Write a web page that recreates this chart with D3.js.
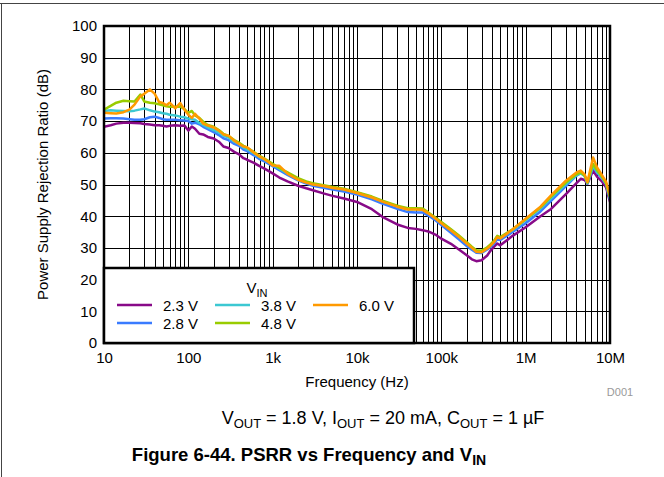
<!DOCTYPE html>
<html>
<head>
<meta charset="utf-8">
<script src="https://cdn.jsdelivr.net/npm/d3@7"></script>
<style>
  body { margin: 0; background: #fff; }
  text { font-family: "Liberation Sans", Arial, sans-serif; }
</style>
</head>
<body>
<div id="chart"></div>
<script>
// frequencies (Hz) shared by all curves
var freq = [10,12,14,17,20,23,27,30,35,40,
  45,50,55,60,70,80,90,100,110,120,
  135,150,170,200,230,260,300,350,400,450,
  500,600,700,800,900,1e3,1.2e3,1.5e3,2e3,2.5e3,
  3e3,4e3,5e3,7e3,1e4,1.5e4,2e4,3e4,4e4,5e4,
  6e4,7e4,8.5e4,1e5,1.3e5,1.6e5,2e5,2.3e5,2.6e5,3e5,
  3.5e5,3.8e5,4.2e5,4.6e5,5e5,7e5,1e6,1.5e6,2e6,3e6,
  4e6,4.5e6,5e6,5.4e6,6.3e6,7e6,8e6,9e6,1e7];

// PSRR (dB) per input voltage
var psrr23 = [68.2,68.7,69.2,69.5,69.5,69.4,69.3,69.1,68.9,68.7,
  68.7,68.5,68.3,68.5,68.7,68.5,68.6,67.0,68.3,67.6,
  66.0,65.8,65.0,64.5,63.5,62.0,61.5,60.3,59.5,58.3,
  57.8,56.8,55.8,55.0,54.2,53.5,52.2,51.0,49.6,48.8,
  48.2,47.2,46.5,45.6,44.5,42.2,39.8,37.4,36.3,36.0,
  35.6,35.2,34.2,32.9,31.3,29.6,27.7,26.4,25.8,26.1,
  27.6,29.0,30.3,31.4,30.8,33.8,36.5,40.0,42.3,47.0,
  50.4,51.8,51.4,50.2,54.4,52.5,51.0,49.0,44.5];

var psrr28 = [70.8,70.9,70.9,70.8,70.6,70.4,70.4,70.6,71.2,71.4,
  71.0,70.6,70.4,70.4,70.4,70.3,70.2,70.0,69.2,69.5,
  69.0,68.2,67.5,66.5,65.6,64.6,64.0,62.8,62.2,61.0,
  60.5,59.2,58.0,57.3,56.5,55.8,54.5,53.0,51.3,50.3,
  49.6,49.0,48.5,47.8,46.8,45.3,44.0,42.3,41.3,41.2,
  41.2,40.2,38.7,37.2,34.8,32.8,30.6,29.4,28.5,28.4,
  29.5,30.2,31.3,32.8,32.5,35.0,37.8,41.5,44.8,49.5,
  52.8,53.6,52.8,50.4,55.5,53.8,52.0,50.0,45.2];

var psrr38 = [73.2,73.4,73.3,73.2,73.1,73.3,73.7,74.0,73.4,73.0,
  72.8,72.5,72.3,72.0,71.8,71.4,71.2,70.8,70.6,70.4,
  69.4,68.8,68.0,67.2,66.4,65.4,64.8,63.5,62.8,61.7,
  61.1,59.8,58.6,57.9,57.0,56.3,55.0,53.5,51.8,50.8,
  50.1,49.6,49.1,48.5,47.4,46.0,44.7,43.1,42.2,42.2,
  42.1,41.0,39.4,38.0,35.7,33.8,31.5,30.1,29.0,28.9,
  30.0,30.8,32.0,33.6,33.2,35.6,38.7,42.4,45.6,50.1,
  52.9,53.6,52.7,50.4,56.0,54.0,52.2,50.2,45.5];

var psrr48 = [73.6,74.8,75.8,76.4,76.3,76.2,78.4,76.2,75.8,75.6,
  75.3,75.0,74.7,74.5,74.5,74.6,73.8,72.6,73.2,71.8,
  71.0,69.8,68.8,68.2,67.2,66.0,65.3,64.0,63.2,62.2,
  61.6,60.2,59.0,58.2,57.3,56.5,55.2,53.8,52.0,51.0,
  50.4,49.8,49.3,48.7,47.6,46.2,44.9,43.3,42.5,42.5,
  42.4,41.2,39.6,38.2,35.9,34.0,31.8,30.4,29.3,29.1,
  30.2,31.0,32.2,33.8,33.4,35.9,39.0,42.8,46.2,50.6,
  53.2,53.8,52.8,50.6,56.5,54.5,52.5,50.3,46.0];

var psrr60 = [72.6,72.5,72.4,72.8,73.6,75.2,77.8,78.6,80.0,78.6,
  76.0,75.7,75.0,75.8,74.0,75.7,73.6,72.0,71.0,72.3,
  70.8,69.2,68.6,68.0,67.0,65.8,65.4,63.8,62.8,62.0,
  61.7,60.0,58.8,58.0,57.0,56.0,55.9,53.4,51.5,50.6,
  50.0,49.5,49.0,48.4,47.3,45.9,44.6,43.0,42.1,42.1,
  42.0,40.9,39.3,37.8,35.5,33.6,31.4,30.0,28.8,28.6,
  29.8,30.6,31.8,33.4,33.0,35.8,39.2,43.0,46.6,51.2,
  53.8,54.4,53.2,50.8,58.5,55.5,53.0,50.8,46.5];

var seriesNames = ["2.3 V", "2.8 V", "3.8 V", "4.8 V", "6.0 V"];
var seriesColors = ["#880a88", "#3a7bff", "#3cc8d2", "#99cc00", "#ff9a00"];
var seriesValues = [psrr23, psrr28, psrr38, psrr48, psrr60];

var xTicks = [10, 100, 1e3, 1e4, 1e5, 1e6, 1e7];
var xTickLabels = ["10", "100", "1k", "10k", "100k", "1M", "10M"];
var yTicks = [0, 10, 20, 30, 40, 50, 60, 70, 80, 90, 100];

var W = 664, H = 477;
var plotL = 104, plotR = 610, plotT = 26, plotB = 343;

var svg = d3.select("#chart").append("svg")
  .attr("width", W).attr("height", H);

// outer frame (top and left edges visible)
svg.append("line").attr("x1", 0).attr("x2", W).attr("y1", 3.5).attr("y2", 3.5)
  .attr("stroke", "#444").attr("stroke-width", 1);
svg.append("line").attr("x1", 1.5).attr("x2", 1.5).attr("y1", 3.5).attr("y2", H)
  .attr("stroke", "#444").attr("stroke-width", 1);

var x = d3.scaleLog().domain([10, 1e7]).range([plotL, plotR]);
var y = d3.scaleLinear().domain([0, 100]).range([plotB, plotT]);

// grid
var grid = svg.append("g");
grid.selectAll(".vg").data(x.ticks()).enter().append("line")
  .attr("x1", d => Math.round(x(d)) + 0.5).attr("x2", d => Math.round(x(d)) + 0.5)
  .attr("y1", plotT).attr("y2", plotB)
  .attr("stroke", "#000").attr("stroke-width", 1);
grid.selectAll(".hg").data(yTicks).enter().append("line")
  .attr("x1", plotL).attr("x2", plotR)
  .attr("y1", d => Math.round(y(d)) + 0.5).attr("y2", d => Math.round(y(d)) + 0.5)
  .attr("stroke", "#000").attr("stroke-width", 1);

// curves
svg.append("clipPath").attr("id", "clip").append("rect")
  .attr("x", plotL).attr("y", plotT).attr("width", plotR - plotL).attr("height", plotB - plotT);

var line = d3.line()
  .x(d => x(d[0]))
  .y(d => y(d[1]));

svg.append("g").attr("clip-path", "url(#clip)")
  .selectAll("path").data(seriesValues).enter().append("path")
  .attr("d", vals => line(freq.map((f, i) => [f, vals[i]])))
  .attr("fill", "none")
  .attr("stroke", (d, i) => seriesColors[i])
  .attr("stroke-width", 2.5)
  .attr("stroke-linejoin", "round");

// plot frame
svg.append("rect").attr("x", plotL).attr("y", plotT)
  .attr("width", plotR - plotL).attr("height", plotB - plotT)
  .attr("fill", "none").attr("stroke", "#000").attr("stroke-width", 2.5);

// axes
var xAxis = svg.append("g").attr("transform", "translate(0," + plotB + ")")
  .call(d3.axisBottom(x).tickValues(xTicks).tickFormat((d, i) => xTickLabels[i])
    .tickSize(0).tickPadding(9));
xAxis.select(".domain").remove();
xAxis.selectAll("text").attr("font-size", 15).attr("fill", "#000")
  .style("font-family", "Liberation Sans, Arial, sans-serif");

var yAxis = svg.append("g").attr("transform", "translate(" + plotL + ",0)")
  .call(d3.axisLeft(y).tickValues(yTicks).tickSize(0).tickPadding(7));
yAxis.select(".domain").remove();
yAxis.selectAll("text").attr("font-size", 15).attr("fill", "#000")
  .style("font-family", "Liberation Sans, Arial, sans-serif");

// axis titles
svg.append("text").attr("x", (plotL + plotR) / 2).attr("y", 387)
  .attr("text-anchor", "middle").attr("font-size", 15)
  .text("Frequency (Hz)");
svg.append("text")
  .attr("transform", "translate(48," + (plotT + plotB) / 2 + ") rotate(-90)")
  .attr("text-anchor", "middle").attr("font-size", 15)
  .text("Power Supply Rejection Ratio (dB)");
svg.append("text").attr("x", 620).attr("y", 396)
  .attr("text-anchor", "middle").attr("font-size", 11).attr("fill", "#999")
  .text("D001");

// legend
var lg = svg.append("g");
lg.append("rect").attr("x", 104).attr("y", 268).attr("width", 310).attr("height", 75)
  .attr("fill", "#fff").attr("stroke", "#000").attr("stroke-width", 2.5);
var lt = lg.append("text").attr("x", 257).attr("y", 293)
  .attr("text-anchor", "middle").attr("font-size", 15);
lt.append("tspan").text("V");
lt.append("tspan").attr("font-size", 11).attr("dy", 4).text("IN");

var legendCols = [117, 215, 313];
var legendRows = [305, 323];
var legendPos = [[0, 0], [0, 1], [1, 0], [1, 1], [2, 0]];
seriesNames.forEach(function (name, i) {
  var cx = legendCols[legendPos[i][0]], cy = legendRows[legendPos[i][1]];
  lg.append("line").attr("x1", cx).attr("x2", cx + 35).attr("y1", cy).attr("y2", cy)
    .attr("stroke", seriesColors[i]).attr("stroke-width", 2.5);
  lg.append("text").attr("x", cx + 46).attr("y", cy + 6)
    .attr("font-size", 15).text(name);
});

// caption
var cap = svg.append("text").attr("x", 383).attr("y", 424)
  .attr("text-anchor", "middle").attr("font-size", 18);
function sub(t, s) {
  t.append("tspan").attr("font-size", 13).attr("dy", 4).text(s);
}
cap.append("tspan").text("V");
sub(cap, "OUT");
cap.append("tspan").attr("dy", -4).text(" = 1.8 V, I");
sub(cap, "OUT");
cap.append("tspan").attr("dy", -4).text(" = 20 mA, C");
sub(cap, "OUT");
cap.append("tspan").attr("dy", -4).text(" = 1 \u00b5F");

var ttl = svg.append("text").attr("x", 309).attr("y", 461)
  .attr("text-anchor", "middle").attr("font-size", 18.5).attr("font-weight", "bold");
ttl.append("tspan").text("Figure 6-44. PSRR vs Frequency and V");
ttl.append("tspan").attr("font-size", 14).attr("dy", 4).text("IN");
</script>
</body>
</html>
